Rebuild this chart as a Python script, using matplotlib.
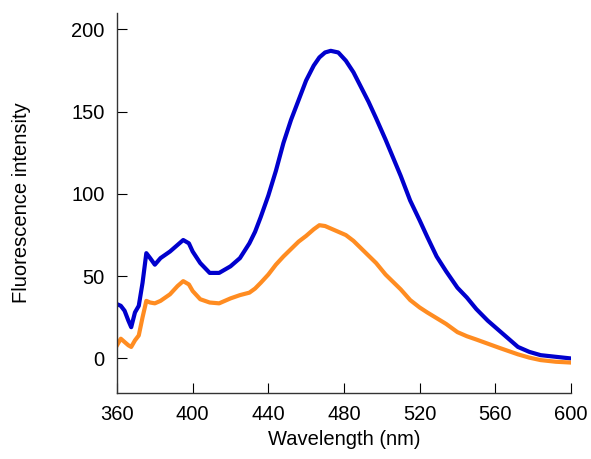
import matplotlib
matplotlib.use('Agg')
import matplotlib.pyplot as plt

# wavelength grid (nm) and two emission spectra
wavelength = [360, 362, 364, 366, 367.5, 369.5, 371.5, 373.5, 375.5, 377.5,
              380, 383, 388, 392, 395, 398, 400, 404, 409, 414,
              420, 425, 430, 433, 436, 440, 444, 448, 452, 456,
              460, 464, 467, 470, 473, 477, 481, 485, 489, 493,
              497, 502, 506, 510, 515, 520, 524, 529, 534, 540,
              545, 550, 556, 562, 567, 572, 578, 584, 592, 600]
blue_int = [33, 32, 29, 23, 19, 28, 32, 46, 64, 61,
            57, 61, 65, 69, 72, 70, 65, 58, 52, 52,
            56, 61, 70, 77, 86, 99, 114, 131, 145, 157,
            169, 178, 183, 186, 187, 186, 181, 174, 165, 156,
            146, 133, 122, 111, 96, 84, 74, 62, 53, 43,
            37, 30, 23, 17, 12, 7, 4, 2, 1, 0]
orange_int = [8, 12, 10, 8, 7, 11, 14, 25, 35, 34,
              33.5, 35, 39, 44, 47, 45, 41, 36, 34, 33.5,
              36.5, 38.5, 40, 42.5, 46, 51, 57, 62, 66.5, 71,
              74.5, 78.5, 81, 80.5, 79, 77, 75, 71.5, 67, 62.5,
              58, 51, 46.5, 42, 35.5, 31, 28, 24.5, 21, 16,
              13.5, 11.5, 9, 6.5, 4.5, 2.5, 0.5, -1, -2, -2.5]

xticks = [360, 400, 440, 480, 520, 560, 600]
yticks = [0, 50, 100, 150, 200]

plt.rcParams['font.family'] = ['Liberation Sans', 'DejaVu Sans']

fig = plt.figure(figsize=(5.91, 4.59), dpi=100)
ax = fig.add_axes([0.198, 0.1438, 0.768, 0.8279])

ax.plot(wavelength, blue_int, color='#0000CD', lw=3)
ax.plot(wavelength, orange_int, color='#FF8C21', lw=3)

ax.set_xlim(360, 600)
ax.set_ylim(-21, 210)
ax.set_xticks(xticks)
ax.set_yticks(yticks)

for s in ['top', 'right']:
    ax.spines[s].set_visible(False)
for s in ['left', 'bottom']:
    ax.spines[s].set_color('#333333')
    ax.spines[s].set_linewidth(1)

ax.tick_params(direction='in', length=7, width=0.8, labelsize=14.5, pad=9)
ax.set_xlabel('Wavelength (nm)', fontsize=14.5, labelpad=4)
ax.set_ylabel('Fluorescence intensity', fontsize=14.5, labelpad=29)

fig.savefig('out.png', dpi=100)
